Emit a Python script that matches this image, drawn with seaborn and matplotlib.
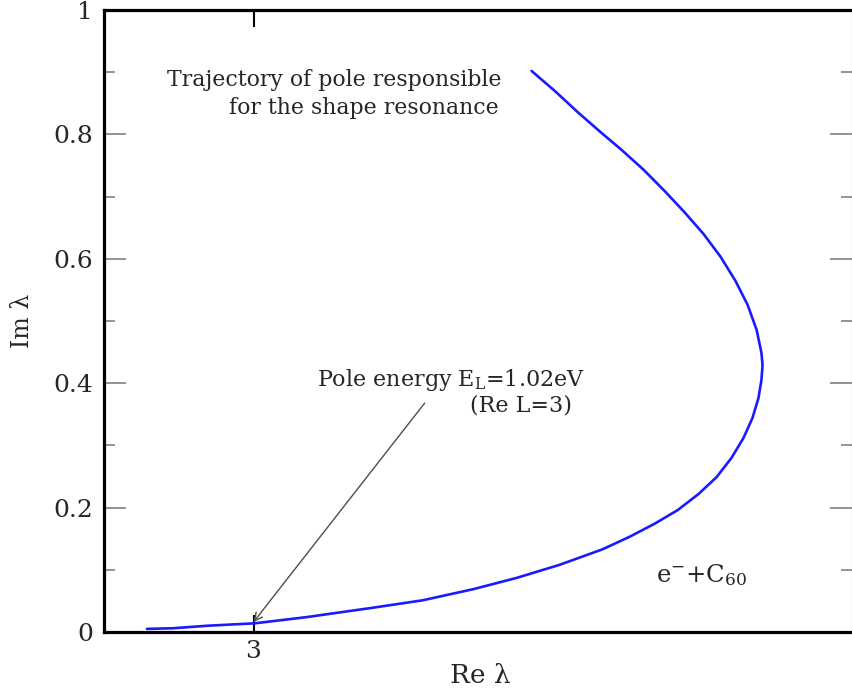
import matplotlib
matplotlib.use("Agg")
import matplotlib.pyplot as plt
import seaborn as sns
import pandas as pd
from matplotlib.ticker import MultipleLocator, FixedLocator

# ---- data ----
re_lambda = [2.715, 2.784, 2.875, 3.004, 3.143, 3.319, 3.453, 3.589, 3.704, 3.819,
             3.934, 4.006, 4.073, 4.135, 4.191, 4.239, 4.279, 4.311, 4.335, 4.351,
             4.359, 4.362, 4.359, 4.346, 4.322, 4.290, 4.250, 4.204, 4.153, 4.100,
             4.044, 3.985, 3.926, 3.867, 3.806, 3.744]
im_lambda = [0.005, 0.006, 0.010, 0.014, 0.024, 0.039, 0.051, 0.069, 0.087, 0.108,
             0.133, 0.153, 0.174, 0.196, 0.222, 0.249, 0.280, 0.312, 0.344, 0.376,
             0.405, 0.429, 0.449, 0.486, 0.526, 0.564, 0.603, 0.640, 0.675, 0.709,
             0.743, 0.775, 0.805, 0.836, 0.870, 0.902]
order = list(range(len(re_lambda)))

y_ticks = [0, 0.2, 0.4, 0.6, 0.8, 1.0]
y_tick_labels = ["0", "0.2", "0.4", "0.6", "0.8", "1"]
x_ticks = [3]
x_tick_labels = ["3"]

pole_re = 3.0
pole_im = 0.016

df = pd.DataFrame({"Re": re_lambda, "Im": im_lambda, "order": order})

sns.set_theme(style="white")
plt.rcParams["font.family"] = ["DejaVu Serif"]
plt.rcParams["mathtext.fontset"] = "dejavuserif"

fig = plt.figure(figsize=(8.52, 6.94), dpi=100)
ax = fig.add_axes([104 / 852, 62 / 694, 747.5 / 852, 622 / 694])

sns.lineplot(data=df, x="Re", y="Im", sort=False, estimator=None,
             color="#1a1aff", lw=1.9, ax=ax, solid_joinstyle="round")

ax.set_xlim(2.6, 4.6)
ax.set_ylim(0, 1)

txt = "#262626"
ax.yaxis.set_major_locator(FixedLocator(y_ticks))
ax.set_yticklabels(y_tick_labels)
ax.yaxis.set_minor_locator(MultipleLocator(0.1))
ax.xaxis.set_major_locator(FixedLocator(x_ticks))
ax.set_xticklabels(x_tick_labels)

ax.tick_params(axis="y", which="major", direction="in", length=16, width=1.2,
               color="#808080", left=True, right=True, labelsize=18,
               labelcolor=txt, pad=8)
ax.tick_params(axis="y", which="minor", direction="in", length=8, width=1.2,
               color="#808080", left=True, right=True)
ax.tick_params(axis="x", which="major", direction="in", length=12, width=1.5,
               color="black", top=True, bottom=True, labelsize=18,
               labelcolor=txt, pad=6)

for side in ["left", "top", "bottom"]:
    ax.spines[side].set_linewidth(2.3)
    ax.spines[side].set_color("black")
ax.spines["right"].set_linewidth(0.8)
ax.spines["right"].set_color("#999999")

ax.set_xlabel("Re λ", fontsize=19, color=txt)
ax.set_ylabel("Im λ", fontsize=17, color=txt)
ax.xaxis.set_label_coords(0.503, -0.050)
ax.yaxis.set_label_coords(-0.093, 0.50)

ax.text(2.768, 0.887, "Trajectory of pole responsible", fontsize=15.8,
        color=txt, ha="left", va="center")
ax.text(2.934, 0.842, "for the shape resonance", fontsize=15.8,
        color=txt, ha="left", va="center")
ax.text(3.170, 0.405, r"Pole energy E$_{\mathrm{L}}$=1.02eV", fontsize=16,
        color=txt, ha="left", va="center")
ax.text(3.579, 0.364, "(Re L=3)", fontsize=16,
        color=txt, ha="left", va="center")
ax.text(4.076, 0.092, r"e$^{-}$+C$_{60}$", fontsize=17.5,
        color=txt, ha="left", va="center")

ax.annotate("", xy=(pole_re, pole_im), xytext=(3.458, 0.368),
            arrowprops=dict(arrowstyle="->", color="#4d4d4d", lw=1.0,
                            shrinkA=0, shrinkB=0, mutation_scale=14))

fig.savefig("out.png", dpi=100)
